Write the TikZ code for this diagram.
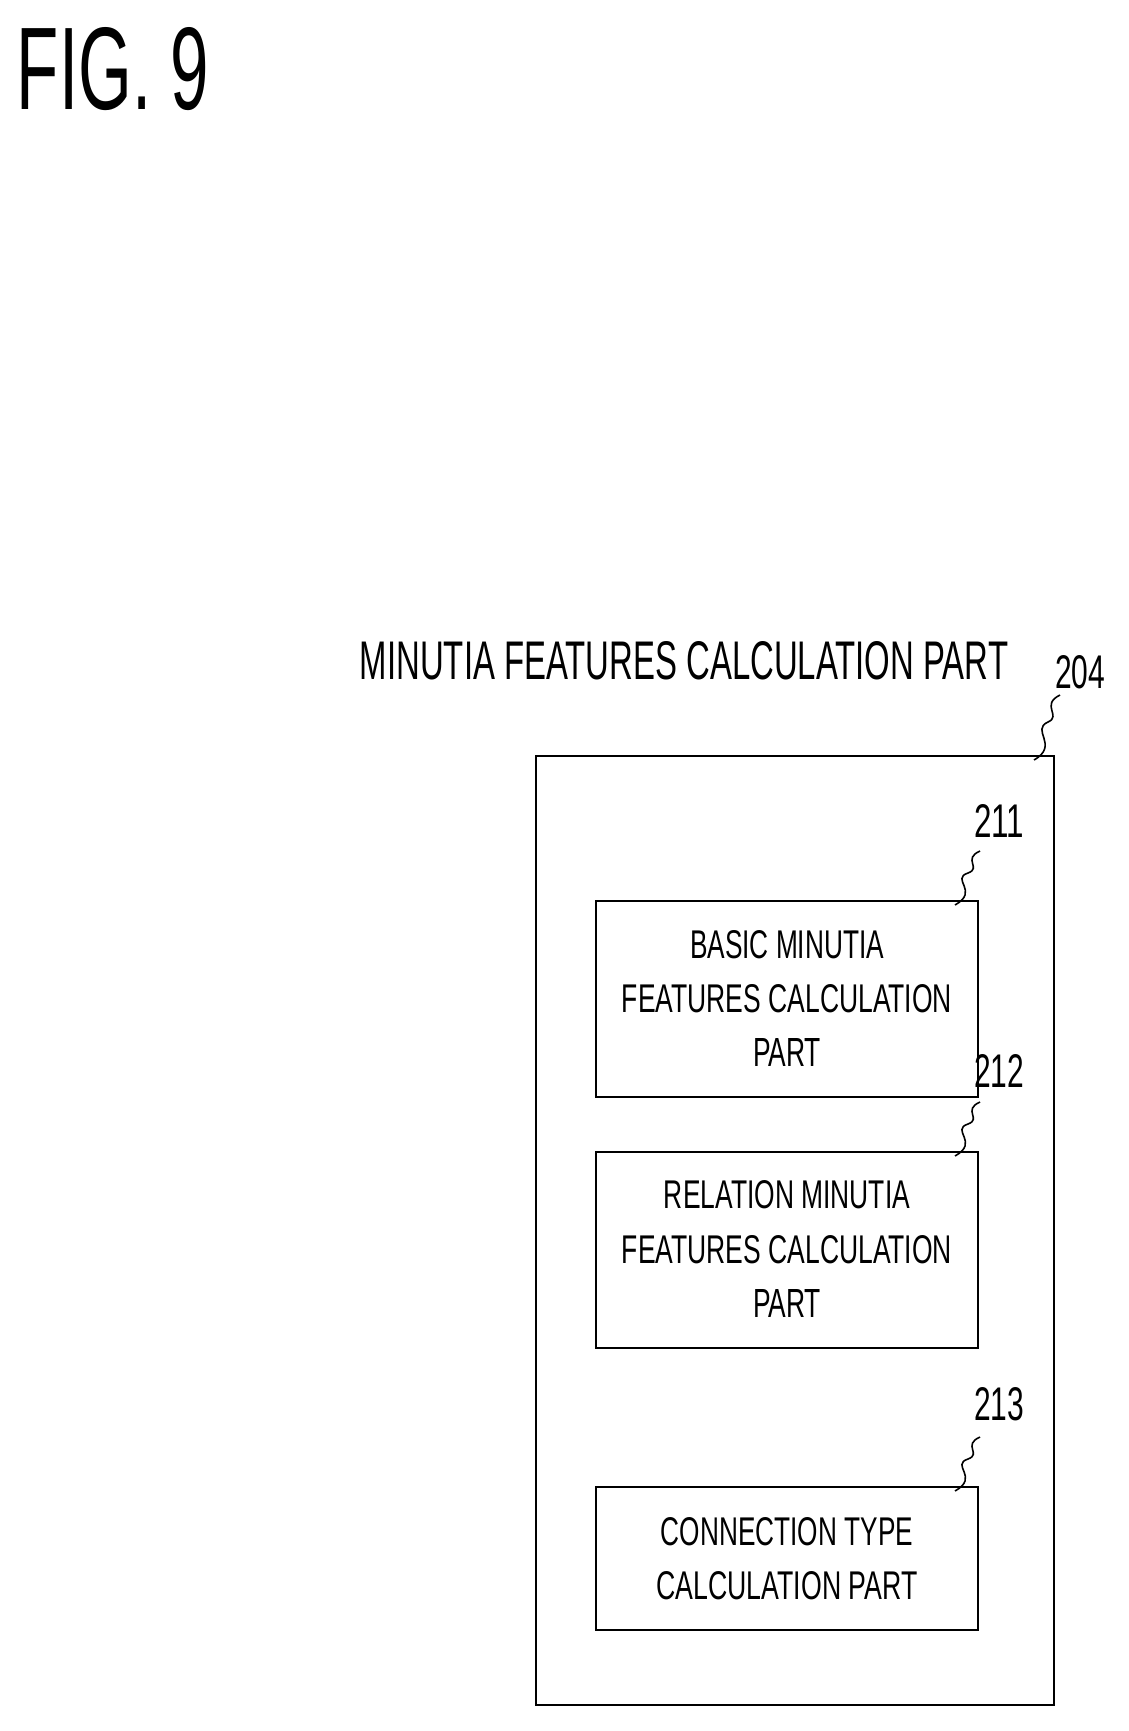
\documentclass[tikz,border=0pt]{standalone}
\usepackage{fontspec}
\setmainfont{Liberation Sans}
\usepackage{graphicx}
\newcommand{\fitw}[3]{\resizebox{#1pt}{#2pt}{#3}}
\tikzset{
    blk/.style={draw, line width=1.6pt},
    lead/.style={line width=1.6pt},
    txt/.style={inner sep=0pt, anchor=center},
}
\begin{document}
\begin{tikzpicture}[x=1pt, y=-1pt]
    % Page
    \useasboundingbox (0,0) rectangle (1128,1731);

    % Figure label
    \node[txt] (fig) at (113,69) {\fitw{192}{82}{FIG. 9}};

    % Outer part
    \node[txt] (title) at (684,661) {\fitw{648}{38}{MINUTIA FEATURES CALCULATION PART}};
    \draw[blk] (536,756) rectangle (1054,1705);
    \coordinate (outc) at (1034,760);
    \node[txt] (n204) at (1080,672) {\fitw{50}{33}{204}};
    \draw[lead] (outc) .. controls (1060,745) and (1030,730) .. (1048,722) .. controls (1062,716) and (1040,705) .. (1060,695);

    % Inner parts
    \draw[blk] (596,901) rectangle (978,1097);
    \node[txt] (b1a) at (787,945) {\fitw{194}{28}{BASIC MINUTIA}};
    \node[txt] (b1b) at (787,999) {\fitw{330}{28}{FEATURES CALCULATION}};
    \node[txt] (b1c) at (787,1052) {\fitw{68}{28}{PART}};

    \draw[blk] (596,1152) rectangle (978,1348);
    \node[txt] (b2a) at (787,1195) {\fitw{246}{28}{RELATION MINUTIA}};
    \node[txt] (b2b) at (787,1250) {\fitw{330}{28}{FEATURES CALCULATION}};
    \node[txt] (b2c) at (787,1303) {\fitw{68}{28}{PART}};

    \draw[blk] (596,1487) rectangle (978,1630);
    \node[txt] (b3a) at (787,1532) {\fitw{252}{28}{CONNECTION TYPE}};
    \node[txt] (b3b) at (787,1586) {\fitw{261}{28}{CALCULATION PART}};

    % Reference numerals
    \foreach \num/\yb/\yn in {211/901/821, 212/1152/1071, 213/1487/1404} {
        \node[txt] (n\num) at (999,\yn) {\fitw{50}{33}{\num}};
        \draw[lead] (955,\yb+4) .. controls (980,\yb-10) and (950,\yb-22) .. (968,\yb-28)
            .. controls (982,\yb-33) and (962,\yb-42) .. (980,\yb-50);
    }
\end{tikzpicture}
\end{document}
